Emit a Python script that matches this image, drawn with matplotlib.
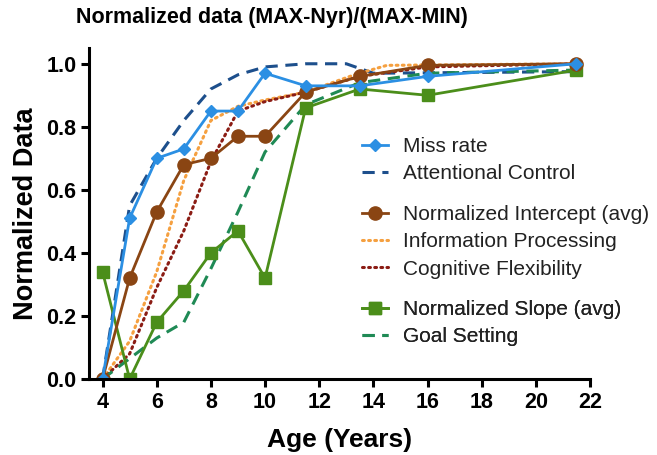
import matplotlib
matplotlib.use("Agg")
import matplotlib.pyplot as plt

plt.rcParams['font.family'] = ['Liberation Sans', 'DejaVu Sans']

ages = [4, 5, 6, 7, 8, 9, 10, 11.5, 13.5, 16, 21.5]
miss_rate = [0.0, 0.51, 0.70, 0.73, 0.85, 0.85, 0.97, 0.93, 0.93, 0.96, 1.0]
intercept = [0.0, 0.32, 0.53, 0.68, 0.70, 0.77, 0.77, 0.91, 0.96, 0.995, 1.0]
slope = [0.34, 0.0, 0.18, 0.28, 0.40, 0.47, 0.32, 0.86, 0.92, 0.90, 0.98]

attn_ages = [4, 5, 6, 7, 8, 9, 10, 11.5, 13, 14, 21.5]
attn_ctrl = [0.0, 0.55, 0.70, 0.82, 0.92, 0.965, 0.99, 1.0, 1.0, 0.97, 0.975]
info_ages = [4, 5, 6, 7, 8, 9, 10, 11.5, 13.3, 14.5, 21.5]
info_proc = [0.0, 0.12, 0.34, 0.63, 0.82, 0.865, 0.885, 0.91, 0.965, 0.995, 1.0]
cog_flex = [0.0, 0.08, 0.29, 0.47, 0.69, 0.85, 0.88, 0.91, 0.96, 0.99, 1.0]
goal_set = [0.0, 0.065, 0.13, 0.18, 0.35, 0.53, 0.72, 0.87, 0.94, 0.97, 0.98]

x_ticks = [4, 6, 8, 10, 12, 14, 16, 18, 20, 22]
y_ticks = [0.0, 0.2, 0.4, 0.6, 0.8, 1.0]

c_miss = '#2b8fe3'
c_attn = '#1d4f8c'
c_int = '#8a4513'
c_info = '#f5a040'
c_cog = '#8b1c14'
c_slope = '#4b8e1a'
c_goal = '#1f8a55'

fig = plt.figure(figsize=(6.57, 4.55), dpi=100)
ax = fig.add_axes([0.1355, 0.167, 0.898 - 0.1355, 0.8945 - 0.167])

l_attn, = ax.plot(attn_ages, attn_ctrl, color=c_attn, lw=2.2, ls=(0, (4, 2.5)), label='Attentional Control')
l_info, = ax.plot(info_ages, info_proc, color=c_info, lw=2.2, ls=(0, (0.6, 1.4)), dash_capstyle='round', label='Information Processing')
l_cog, = ax.plot(ages, cog_flex, color=c_cog, lw=2.2, ls=(0, (0.6, 1.4)), dash_capstyle='round', label='Cognitive Flexibility')
l_goal, = ax.plot(ages, goal_set, color=c_goal, lw=2.2, ls=(0, (4, 2.5)), label='Goal Setting')
l_slope, = ax.plot(ages, slope, color=c_slope, lw=2.0, marker='s', ms=9, label='Normalized Slope (avg)')
l_int, = ax.plot(ages, intercept, color=c_int, lw=2.0, marker='o', ms=9.5, label='Normalized Intercept (avg)')
l_miss, = ax.plot(ages, miss_rate, color=c_miss, lw=2.0, marker='D', ms=6.5, label='Miss rate')

ax.set_xlim(3.5, 22)
ax.set_ylim(0, 1.05)
ax.set_xticks(x_ticks)
ax.set_yticks(y_ticks)
ax.set_yticklabels([f'{v:.1f}' for v in y_ticks])
for s in ['top', 'right']:
    ax.spines[s].set_visible(False)
for s in ['left', 'bottom']:
    ax.spines[s].set_linewidth(2.2)
ax.tick_params(width=2.2, length=6, labelsize=15.5, direction='out', pad=3)
for lab in ax.get_xticklabels() + ax.get_yticklabels():
    lab.set_fontweight('bold')

ax.set_xlabel('Age (Years)', fontsize=19, fontweight='bold', labelpad=11)
ax.set_ylabel('Normalized Data', fontsize=19.5, fontweight='bold', labelpad=5)
fig.suptitle('Normalized data (MAX-Nyr)/(MAX-MIN)', x=0.414, y=0.985, fontsize=15.5, fontweight='bold')

groups = [
    ([l_miss, l_attn], 150),
    ([l_int, l_info, l_cog], 218),
    ([l_slope, l_goal], 313),
]
for handles, yc in groups:
    leg = ax.legend(handles=handles, loc='upper left',
                    bbox_to_anchor=(362 / 657, 1 - (yc - 13) / 455),
                    bbox_transform=fig.transFigure, frameon=False,
                    fontsize=15, handlelength=1.25, handletextpad=0.7,
                    labelspacing=0.4, borderaxespad=0, borderpad=0,
                    labelcolor='#222222')
    ax.add_artist(leg)

fig.savefig('out.png', dpi=100)
